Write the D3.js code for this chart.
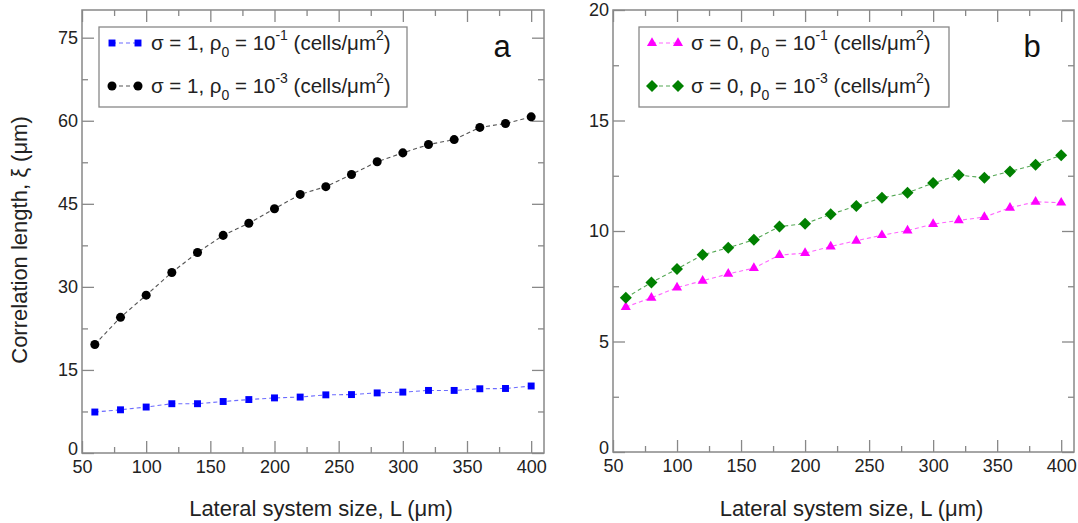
<!DOCTYPE html>
<html>
<head>
<meta charset="utf-8">
<script src="https://cdn.jsdelivr.net/npm/d3@7"></script>
<style>
  body { margin: 0; background: #fff; }
  svg { font-family: "Liberation Sans", Arial, sans-serif; }
  .tick text { font-size: 18px; fill: #222; }
  .tick line { stroke: #888; stroke-width: 1.3; }
</style>
</head>
<body>
<div id="chart"></div>
<script>
// lateral system sizes (um)
var sizes = [60, 80, 100, 120, 140, 160, 180, 200, 220, 240, 260, 280, 300, 320, 340, 360, 380, 400];

// panel a: sigma = 1
var s1High = [7.4, 7.8, 8.3, 8.9, 8.9, 9.3, 9.65, 9.95, 10.1, 10.5, 10.55, 10.85, 11.0, 11.3, 11.3, 11.6, 11.65, 12.1];
var s1Low = [19.6, 24.5, 28.5, 32.6, 36.2, 39.3, 41.5, 44.1, 46.7, 48.1, 50.3, 52.6, 54.2, 55.7, 56.6, 58.8, 59.5, 60.7];

// panel b: sigma = 0
var s0High = [6.56, 6.98, 7.44, 7.75, 8.06, 8.32, 8.91, 9.0, 9.3, 9.56, 9.81, 10.02, 10.31, 10.48, 10.63, 11.05, 11.32, 11.28];
var s0Low = [6.98, 7.67, 8.28, 8.92, 9.24, 9.6, 10.2, 10.33, 10.76, 11.13, 11.5, 11.73, 12.17, 12.53, 12.41, 12.69, 13.0, 13.43];

var xTicks = [50, 100, 150, 200, 250, 300, 350, 400];
var xMinor = [75, 125, 175, 225, 275, 325, 375];
var yTicksA = [0, 15, 30, 45, 60, 75];
var yMinorA = [7.5, 22.5, 37.5, 52.5, 67.5];
var yTicksB = [0, 5, 10, 15, 20];
var yMinorB = [2.5, 7.5, 12.5, 17.5];

var width = 1078, height = 523;

var svg = d3.select("#chart").append("svg")
    .attr("width", width)
    .attr("height", height);

// grace-style diamond: a square turned by 45 degrees
var diamond = {
    draw: function(context, size) {
        var r = Math.sqrt(size / 2);
        context.moveTo(0, -r);
        context.lineTo(r, 0);
        context.lineTo(0, r);
        context.lineTo(-r, 0);
        context.closePath();
    }
};

/**
 * Draws one panel with frame, axes, series and legend
 */
function drawPanel(cfg) {
    var x = d3.scaleLinear().domain([50, 410]).range([cfg.left, cfg.right]);
    var y = d3.scaleLinear().domain(cfg.yDomain).range([cfg.bottom, cfg.top]);

    var g = svg.append("g");

    // major + minor ticks on all four sides, pointing inwards
    g.append("g").attr("transform", "translate(0," + cfg.bottom + ")")
        .call(d3.axisBottom(x).tickValues(xTicks).tickSize(-12).tickPadding(7));
    g.append("g").attr("transform", "translate(0," + cfg.bottom + ")")
        .call(d3.axisBottom(x).tickValues(xMinor).tickSize(-6).tickFormat(""));
    g.append("g").attr("transform", "translate(0," + cfg.top + ")")
        .call(d3.axisTop(x).tickValues(xTicks).tickSize(-12).tickFormat(""));
    g.append("g").attr("transform", "translate(0," + cfg.top + ")")
        .call(d3.axisTop(x).tickValues(xMinor).tickSize(-6).tickFormat(""));

    var yAxis = g.append("g").attr("transform", "translate(" + cfg.left + ",0)")
        .call(d3.axisLeft(y).tickValues(cfg.yTicks).tickSize(-12).tickPadding(4));
    // the zero label sits a touch higher, as in the original
    yAxis.selectAll(".tick text").filter(function(d) { return d === 0; })
        .attr("dy", "0.1em");
    g.append("g").attr("transform", "translate(" + cfg.left + ",0)")
        .call(d3.axisLeft(y).tickValues(cfg.yMinor).tickSize(-6).tickFormat(""));
    g.append("g").attr("transform", "translate(" + cfg.right + ",0)")
        .call(d3.axisRight(y).tickValues(cfg.yTicks).tickSize(-12).tickFormat(""));
    g.append("g").attr("transform", "translate(" + cfg.right + ",0)")
        .call(d3.axisRight(y).tickValues(cfg.yMinor).tickSize(-6).tickFormat(""));

    g.selectAll(".domain").remove();

    // frame
    g.append("rect")
        .attr("x", cfg.left).attr("y", cfg.top)
        .attr("width", cfg.right - cfg.left).attr("height", cfg.bottom - cfg.top)
        .attr("fill", "none").attr("stroke", "#888").attr("stroke-width", 1.5);

    // x axis title
    g.append("text")
        .attr("x", (cfg.left + cfg.right) / 2 + 8)
        .attr("y", 516)
        .attr("text-anchor", "middle")
        .attr("font-size", 22)
        .attr("fill", "#222")
        .text("Lateral system size, L (\u03bcm)");

    // panel letter
    g.append("text")
        .attr("x", cfg.right - 42)
        .attr("y", 57)
        .attr("text-anchor", "middle")
        .attr("font-size", 31)
        .attr("fill", "#111")
        .text(cfg.letter);

    var line = d3.line()
        .x(function(d, i) { return x(sizes[i]); })
        .y(function(d) { return y(d); });

    cfg.series.forEach(function(s) {
        g.append("path")
            .datum(s.values)
            .attr("d", line)
            .attr("fill", "none")
            .attr("stroke", s.lineColor)
            .attr("stroke-width", 1.1)
            .attr("stroke-dasharray", "4,3");

        g.selectAll(null)
            .data(s.values)
            .enter()
            .append("path")
            .attr("transform", function(d, i) {
                return "translate(" + x(sizes[i]) + "," + y(d) + ")";
            })
            .attr("d", d3.symbol().type(s.symbol).size(s.size))
            .attr("fill", s.color);
    });

    // legend
    var lg = g.append("g");
    lg.append("rect")
        .attr("x", cfg.legend.x).attr("y", 27)
        .attr("width", cfg.legend.w).attr("height", 80)
        .attr("fill", "#fff").attr("stroke", "#888").attr("stroke-width", 1.3);

    cfg.series.forEach(function(s, k) {
        var cy = 43 + k * 43;
        var sx = cfg.legend.x + 13;
        lg.append("line")
            .attr("x1", sx).attr("x2", sx + 26)
            .attr("y1", cy).attr("y2", cy)
            .attr("stroke", s.lineColor).attr("stroke-width", 1.1)
            .attr("stroke-dasharray", "4,3");
        [sx, sx + 26].forEach(function(px) {
            lg.append("path")
                .attr("transform", "translate(" + px + "," + cy + ")")
                .attr("d", d3.symbol().type(s.symbol).size(s.size))
                .attr("fill", s.color);
        });

        var t = lg.append("text")
            .attr("x", cfg.legend.x + 52)
            .attr("y", cy + 7)
            .attr("font-size", 20.5)
            .attr("fill", "#222");
        t.append("tspan").text("\u03c3 = " + cfg.sigma + ", \u03c1");
        t.append("tspan").attr("font-size", 14).attr("dy", 7).text("0");
        t.append("tspan").attr("dy", -7).text(" = 10");
        t.append("tspan").attr("font-size", 14).attr("dy", -10).text(s.exp);
        t.append("tspan").attr("dy", 10).text(" (cells/\u03bcm");
        t.append("tspan").attr("font-size", 14).attr("dy", -10).text("2");
        t.append("tspan").attr("dy", 10).text(")");
    });
}

drawPanel({
    left: 82, right: 544, top: 10, bottom: 453,
    yDomain: [0, 80], yTicks: yTicksA, yMinor: yMinorA,
    letter: "a", sigma: 1,
    legend: { x: 99, w: 308 },
    series: [
        { values: s1High, color: "#0000ff", lineColor: "#6b6bff", symbol: d3.symbolSquare, size: 48, exp: "-1" },
        { values: s1Low, color: "#000", lineColor: "#555", symbol: d3.symbolCircle, size: 64, exp: "-3" }
    ]
});

drawPanel({
    left: 613, right: 1074, top: 10, bottom: 452,
    yDomain: [0, 20], yTicks: yTicksB, yMinor: yMinorB,
    letter: "b", sigma: 0,
    legend: { x: 639, w: 310 },
    series: [
        { values: s0High, color: "#ff00ff", lineColor: "#ff66ff", symbol: d3.symbolTriangle, size: 44, exp: "-1" },
        { values: s0Low, color: "#008000", lineColor: "#55a855", symbol: diamond, size: 72, exp: "-3" }
    ]
});

// shared y axis title
svg.append("text")
    .attr("transform", "translate(27,240) rotate(-90)")
    .attr("text-anchor", "middle")
    .attr("font-size", 22)
    .attr("fill", "#222")
    .text("Correlation length, \u03be (\u03bcm)");
</script>
</body>
</html>
